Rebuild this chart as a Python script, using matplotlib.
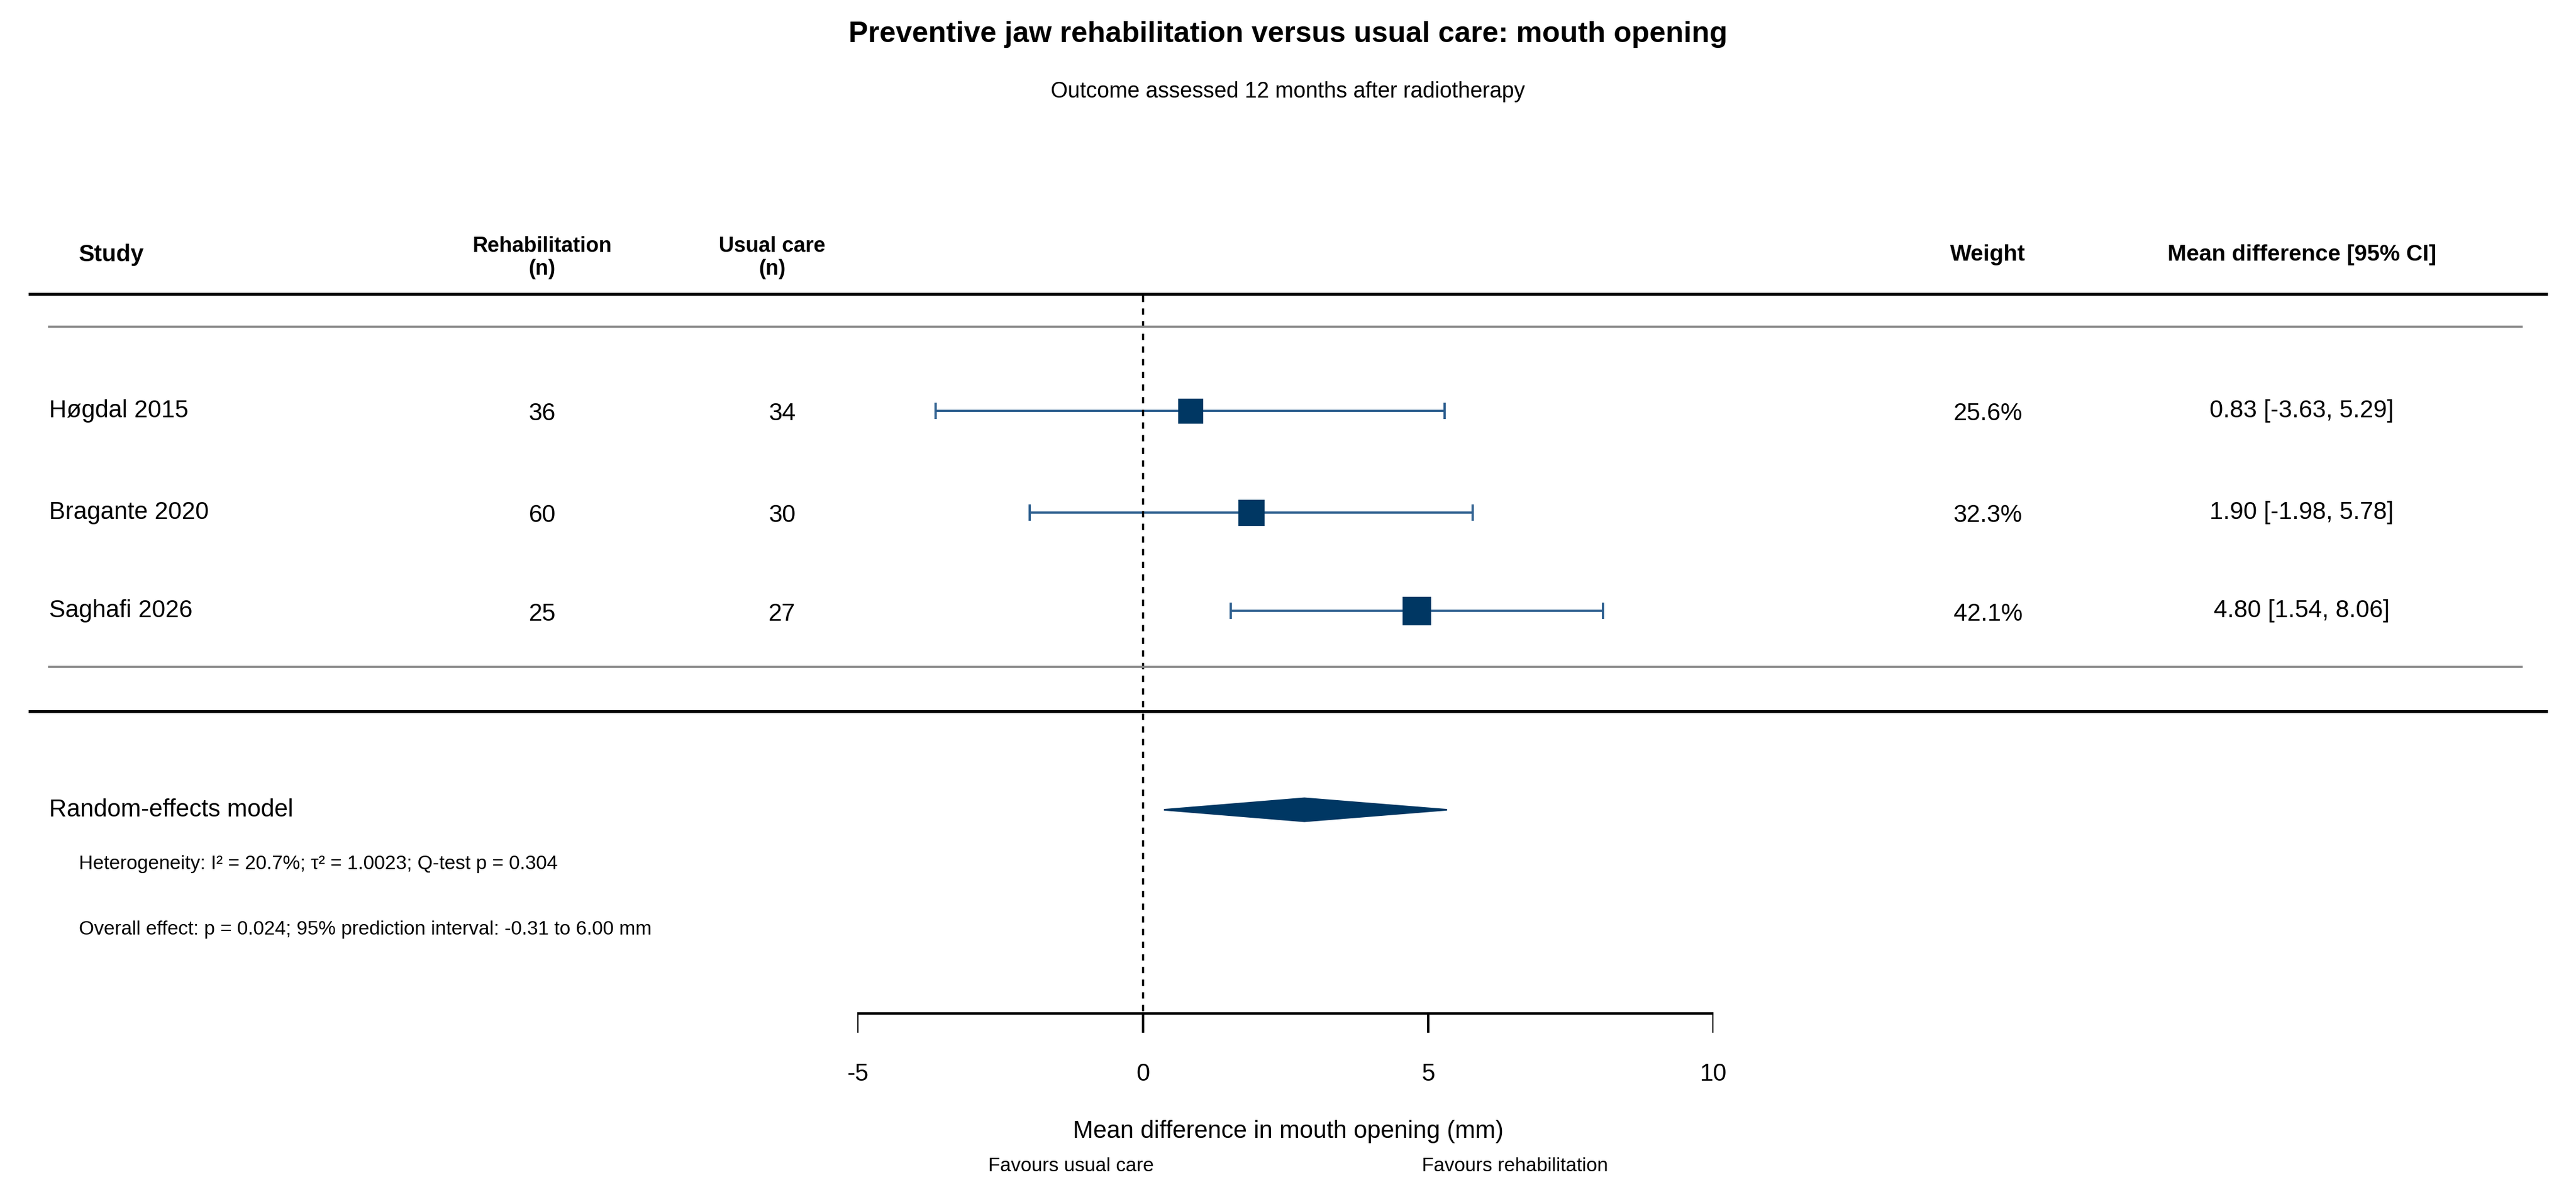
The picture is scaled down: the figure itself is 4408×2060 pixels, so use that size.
import matplotlib
matplotlib.use("Agg")
import matplotlib.pyplot as plt
from matplotlib.patches import Polygon

studies = ["Høgdal 2015", "Bragante 2020", "Saghafi 2026"]
n_rehab = [36, 60, 25]
n_usual = [34, 30, 27]
md = [0.83, 1.90, 4.80]
lo = [-3.63, -1.98, 1.54]
hi = [5.29, 5.78, 8.06]
weights = [25.6, 32.3, 42.1]
pooled = (2.83, 0.37, 5.33)
xticks = [-5, 0, 5, 10]

W, H = 1568.0, 733.0
plt.rcParams['font.family'] = ['Liberation Sans', 'DejaVu Sans']
fig = plt.figure(figsize=(22.04, 10.3), dpi=200)
navy = "#003763"
cicol = "#2d5f8f"

def fy(py): return 1 - py / H
def fx(px): return px / W
def T(px, py, s, **kw):
    fig.text(fx(px), fy(py), s, va="center", **kw)

ax = fig.add_axes([fx(522), 0, fx(1043) - fx(522), 1])
ax.set_xlim(-5, 10)
ax.set_ylim(H, 0)
ax.axis("off")

T(784, 21, "Preventive jaw rehabilitation versus usual care: mouth opening", ha="center", fontsize=18, fontweight="bold")
T(784, 56, "Outcome assessed 12 months after radiotherapy", ha="center", fontsize=13.5)

T(48, 155, "Study", ha="left", fontsize=14.5, fontweight="bold")
T(330, 157, "Rehabilitation\n(n)", ha="center", fontsize=13, fontweight="bold", linespacing=1.15)
T(470, 157, "Usual care\n(n)", ha="center", fontsize=13, fontweight="bold", linespacing=1.15)
T(1210, 155, "Weight", ha="center", fontsize=14, fontweight="bold")
T(1401, 155, "Mean difference [95% CI]", ha="center", fontsize=14, fontweight="bold")

fig.add_artist(plt.Line2D([fx(18), fx(1550)], [fy(179)] * 2, color="black", lw=1.8))
fig.add_artist(plt.Line2D([fx(30), fx(1535)], [fy(199)] * 2, color="#888888", lw=1.3))
fig.add_artist(plt.Line2D([fx(30), fx(1535)], [fy(406)] * 2, color="#888888", lw=1.3))
fig.add_artist(plt.Line2D([fx(18), fx(1550)], [fy(433)] * 2, color="black", lw=1.8))

ys = [250, 312, 372]
for i, s in enumerate(studies):
    y = ys[i]
    T(30, y, s, ha="left", fontsize=15)
    T(330, y + 2, str(n_rehab[i]), ha="center", fontsize=15)
    T(476, y + 2, str(n_usual[i]), ha="center", fontsize=15)
    T(1210, y + 2, f"{weights[i]:.1f}%", ha="center", fontsize=15)
    T(1401, y, f"{md[i]:.2f} [{lo[i]:.2f}, {hi[i]:.2f}]", ha="center", fontsize=15)
    ax.errorbar([md[i]], [y], xerr=[[md[i] - lo[i]], [hi[i] - md[i]]], fmt="none",
                ecolor=cicol, elinewidth=1.4, capsize=5, capthick=1.4)
    ax.plot([md[i]], [y], marker="s", color=navy, ms=12 + weights[i] / 10, ls="none")

ax.plot([0, 0], [180, 617], color="black", lw=1.3, ls=(0, (3, 3)))

T(30, 493, "Random-effects model", ha="left", fontsize=15)
est, plo, phi = pooled
ax.add_patch(Polygon([[plo, 493], [est, 486], [phi, 493], [est, 500]], closed=True,
                     facecolor=navy, edgecolor=navy))
T(48, 526, "Heterogeneity: I² = 20.7%; τ² = 1.0023; Q-test p = 0.304", ha="left", fontsize=12)
T(48, 566, "Overall effect: p = 0.024; 95% prediction interval: -0.31 to 6.00 mm", ha="left", fontsize=12)

ax.plot([-5, 10], [617, 617], color="black", lw=1.5)
for t in xticks:
    ax.plot([t, t], [617, 628], color="black", lw=1.5)
    ax.text(t, 654, str(t), ha="center", va="center", fontsize=15)
T(784, 689, "Mean difference in mouth opening (mm)", ha="center", fontsize=15)
T(652, 710, "Favours usual care", ha="center", fontsize=12)
T(922, 710, "Favours rehabilitation", ha="center", fontsize=12)

fig.savefig("out.png", dpi=200)
